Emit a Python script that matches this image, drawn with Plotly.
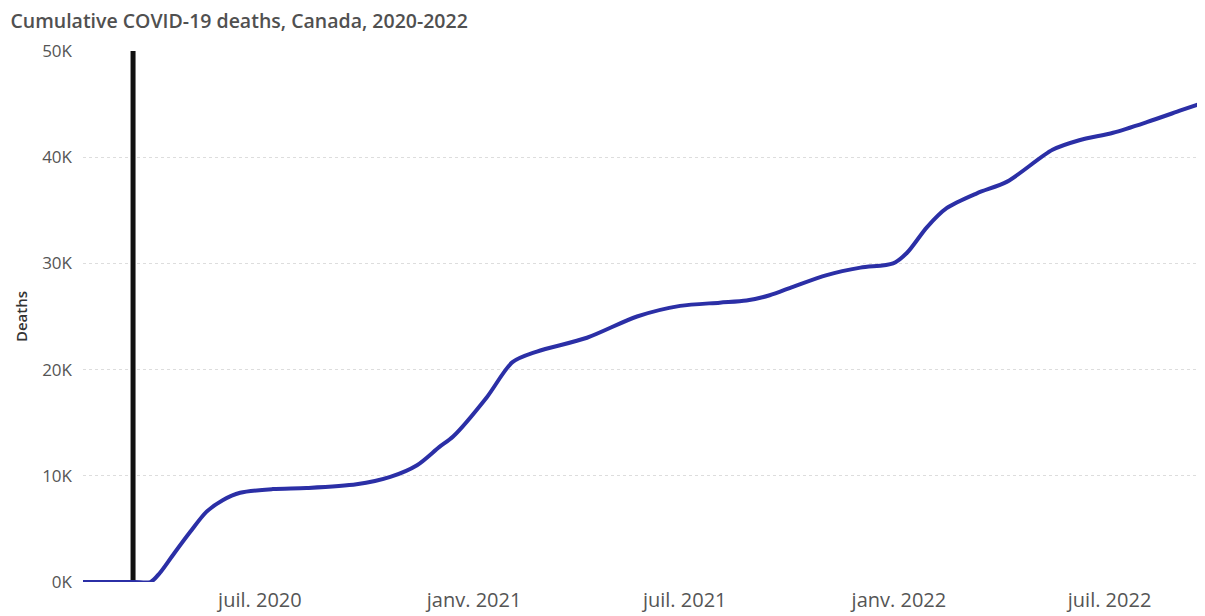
import plotly.graph_objects as go

# ---- data ----
dates = [
    "2020-01-31", "2020-03-15", "2020-03-29", "2020-04-06", "2020-04-17", "2020-05-02",
    "2020-05-16", "2020-05-30", "2020-06-14", "2020-07-12", "2020-08-10",
    "2020-09-22", "2020-10-21", "2020-11-13", "2020-12-02", "2020-12-14",
    "2021-01-12", "2021-02-03", "2021-02-24", "2021-04-08", "2021-05-21",
    "2021-06-27", "2021-07-31", "2021-08-23", "2021-09-12", "2021-10-02",
    "2021-10-31", "2021-11-29", "2021-12-27", "2022-01-08", "2022-01-25",
    "2022-02-11", "2022-03-09", "2022-04-04", "2022-05-13", "2022-06-05",
    "2022-07-04", "2022-08-02", "2022-08-31", "2022-09-21",
]
deaths = [
    0, 0, 0, 850, 2500, 4700,
    6600, 7700, 8400, 8750, 8850,
    9200, 9900, 11000, 12700, 13700,
    17400, 20700, 21700, 23000, 25000,
    26000, 26300, 26500, 27000, 27800,
    28900, 29600, 30000, 31000, 33400,
    35200, 36600, 37700, 40700, 41600,
    42300, 43300, 44400, 45200,
]
event_date = ["2020-03-14", "2020-03-14"]
event_span = [0, 50000]

y_tickvals = [0, 10000, 20000, 30000, 40000, 50000]
y_ticktext = ["0K", "10K", "20K", "30K", "40K", "50K"]
x_tickvals = ["2020-07-01", "2021-01-01", "2021-07-01", "2022-01-01", "2022-07-01"]
x_ticktext = ["juil. 2020", "janv. 2021", "juil. 2021", "janv. 2022", "juil. 2022"]
title_text = "Cumulative COVID-19 deaths, Canada, 2020-2022"
y_title = "Deaths"

fig = go.Figure()
fig.add_trace(go.Scatter(
    x=event_date, y=event_span, mode="lines",
    line=dict(color="#111111", width=5), hoverinfo="skip", showlegend=False,
))
fig.add_trace(go.Scatter(
    x=dates, y=deaths, mode="lines",
    line=dict(color="#2B2FA6", width=4, shape="spline", smoothing=0.8),
    showlegend=False,
))

font_family = "Open Sans, Liberation Sans, sans-serif"

fig.update_layout(
    width=1205, height=616,
    margin=dict(l=75, r=8, t=43, b=42),
    paper_bgcolor="white", plot_bgcolor="white",
    font=dict(family=font_family, color="#555555"),
    title=dict(text=title_text, x=0.002, xanchor="left", y=0.978, yanchor="middle",
               font=dict(size=19.5, color="#505050", family=font_family, weight=600)),
    xaxis=dict(
        range=[dates[0], dates[-1]], showgrid=False, zeroline=False, showline=False,
        tickvals=x_tickvals, ticktext=x_ticktext, ticks="",
        tickfont=dict(size=20, color="#555555"), ticklabelstandoff=4,
    ),
    yaxis=dict(
        range=[0, 50000], tickvals=y_tickvals, ticktext=y_ticktext,
        showgrid=True, gridcolor="#dddddd", griddash="dot", gridwidth=1,
        zeroline=False, showline=False, ticks="",
        tickfont=dict(size=17, color="#555555"), ticklabelstandoff=10,
        title=dict(text=y_title, font=dict(size=15, color="#333333", weight=600), standoff=10),
    ),
)

fig.write_html("out.html")
